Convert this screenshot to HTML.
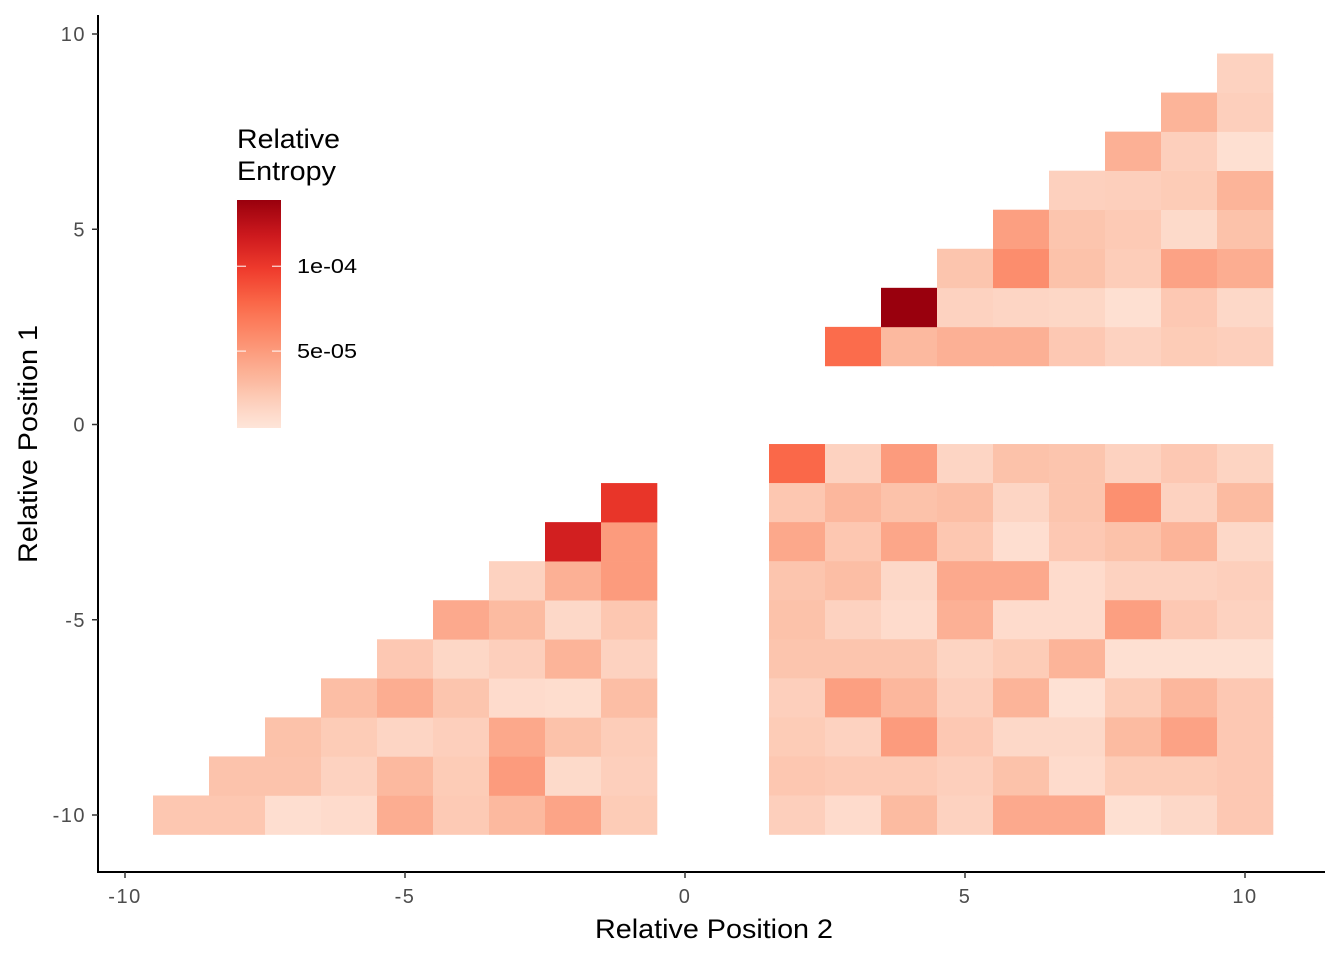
<!DOCTYPE html>
<html><head><meta charset="utf-8">
<style>
html,body{margin:0;padding:0;background:#fff;}
svg{display:block;font-family:"Liberation Sans",Arial,sans-serif;}
</style></head>
<body>
<svg id="chart" width="1344" height="960" viewBox="0 0 1344 960" xmlns="http://www.w3.org/2000/svg">
<g id="cells"></g>
<g id="axes"></g>
<g id="legend"></g>
</svg>
<script>
// Data: values in units of 1e-5
const rowY = [-10,-9,-8,-7,-6,-5,-4,-3,-2,
  -1,-2,-3,-4,-5,-6,-7,-8,-9,-10,
  2,3,4,5,6,7,8,9];
const rowStartX = [-9,-8,-7,-6,-5,-4,-3,-2,-1,
  2,2,2,2,2,2,2,2,2,2,
  3,4,5,6,7,8,9,10];
const rowValues = [
  [2.5,2.5,1.0,1.2,4.0,2.3,3.3,4.5,2.2],
  [2.7,2.7,1.8,3.3,2.2,5.0,1.3,2.0],
  [2.8,2.2,1.6,2.0,4.3,2.8,2.1],
  [3.0,4.0,2.6,1.2,1.1,3.0],
  [2.4,1.5,2.0,3.6,1.8],
  [4.2,3.2,1.4,2.5],
  [1.8,3.8,5.0],
  [11.5,5.0],
  [10.2],
  [7.8,1.8,5.0,1.6,2.8,2.6,1.8,2.4,1.7],
  [2.5,3.4,2.8,3.0,1.6,2.6,5.6,1.8,3.2],
  [4.3,2.5,4.4,2.5,1.0,2.4,2.8,3.6,1.4],
  [2.6,3.0,1.4,4.2,4.2,1.2,1.8,1.8,2.0],
  [2.8,1.8,1.2,3.8,1.2,1.2,4.8,2.4,1.8],
  [2.6,2.6,2.6,1.7,2.2,3.6,0.9,0.9,0.9],
  [2.0,4.8,3.4,2.0,3.6,0.8,2.2,3.4,2.4],
  [2.2,1.8,5.0,2.4,1.4,1.4,3.2,4.6,2.4],
  [2.5,2.3,2.3,2.0,2.8,1.2,2.2,2.2,2.4],
  [2.0,1.2,3.2,1.8,4.2,4.2,0.9,1.4,2.4],
  [7.6,3.3,3.8,3.8,2.4,1.8,2.2,2.0],
  [13.9,1.8,1.6,1.5,0.9,2.4,1.4],
  [2.6,5.8,2.8,2.1,4.6,4.0],
  [4.8,2.6,2.3,1.3,2.8],
  [1.9,2.0,2.2,3.6],
  [3.8,2.0,0.9],
  [3.6,2.0],
  [1.8]
];
const xTicks = [-10,-5,0,5,10];
const yTicks = [-10,-5,0,5,10];
const xTickLabels = ["-10","-5","0","5","10"];
const yTickLabels = ["-10","-5","0","5","10"];
const legendTicks = [10,5];
const legendTickLabels = ["1e-04","5e-05"];
const vMin = 0.47, vMax = 13.9;

const NS="http://www.w3.org/2000/svg";
const xScale = v => 685 + v*56;
const yScale = v => 424.5 - v*39.05;
const stops = ["#FEE5D9","#FCBBA1","#FC9272","#FB6A4A","#EF3B2C","#CB181D","#99000D"];
function hex(c){return [1,3,5].map(i=>parseInt(c.substr(i,2),16));}
function color(v){
  let t0=Math.max(0,Math.min(1,(v-vMin)/(vMax-vMin)));
  let t=Math.pow(t0,1.12)*(stops.length-1);
  let i=Math.min(stops.length-2,Math.floor(t)), f=t-i;
  let a=hex(stops[i]), b=hex(stops[i+1]);
  return "rgb("+a.map((x,k)=>Math.round(x+(b[k]-x)*f)).join(",")+")";
}
function mk(tag,attrs,parent){const e=document.createElementNS(NS,tag);for(const k in attrs)e.setAttribute(k,attrs[k]);parent.appendChild(e);return e;}

const cells=document.getElementById("cells");
rowValues.forEach((vals,r)=>{
  vals.forEach((v,j)=>{
    const x=rowStartX[r]+j, y=rowY[r];
    const rect=mk("rect",{x:xScale(x-0.5),y:yScale(y+0.5),width:xScale(x+0.5)-xScale(x-0.5)+0.3,height:yScale(y-0.5)-yScale(y+0.5)+0.3,fill:color(v)},cells);
    
    
  });
});

const axes=document.getElementById("axes");
let yl=mk("line",{x1:98,y1:15,x2:98,y2:872,stroke:"#000","stroke-width":2},axes);


let xl=mk("line",{x1:97,y1:872,x2:1325,y2:872,stroke:"#000","stroke-width":2},axes);


xTicks.forEach((t,i)=>{
  let tk=mk("line",{x1:xScale(t),y1:872,x2:xScale(t),y2:878,stroke:"#333","stroke-width":1.5},axes);
  
  
  let tx=mk("text",{x:xScale(t),y:903,"text-anchor":"middle","font-size":20,fill:"#4d4d4d","letter-spacing":"1.5"},axes);
  tx.textContent=xTickLabels[i];
  
  
});
yTicks.forEach((t,i)=>{
  let tk=mk("line",{x1:92,y1:yScale(t),x2:98,y2:yScale(t),stroke:"#333","stroke-width":1.5},axes);
  
  
  let tx=mk("text",{x:86,y:yScale(t)+7,"text-anchor":"end","font-size":20,fill:"#4d4d4d","letter-spacing":"1.5"},axes);
  tx.textContent=yTickLabels[i];
  
  
});
let xt=mk("text",{x:595,y:938,"font-size":27,fill:"#000",textLength:238,lengthAdjust:"spacingAndGlyphs"},axes);
xt.textContent="Relative Position 2";


let yt=mk("text",{x:-563,y:0,"font-size":27,fill:"#000",transform:"translate(37,0) rotate(-90)",textLength:238,lengthAdjust:"spacingAndGlyphs"},axes);
yt.textContent="Relative Position 1";



const leg=document.getElementById("legend");
let t1=mk("text",{x:237,y:148,"font-size":27,fill:"#000",textLength:103,lengthAdjust:"spacingAndGlyphs"},leg);
t1.textContent="Relative";


let t2=mk("text",{x:237,y:180,"font-size":27,fill:"#000",textLength:99,lengthAdjust:"spacingAndGlyphs"},leg);
t2.textContent="Entropy";


const defs=mk("defs",{},leg);
const grad=mk("linearGradient",{id:"lg",x1:0,y1:1,x2:0,y2:0},defs);
for(let k=0;k<=20;k++){const tt=k/20;mk("stop",{offset:tt,"stop-color":color(vMin+tt*(vMax-vMin))},grad);}
let bar=mk("rect",{x:237,y:200,width:44,height:228,fill:"url(#lg)"},leg);


const lScale = v => 428 - (v - vMin)/(vMax - vMin)*228;
legendTicks.forEach((v,i)=>{
  const y=lScale(v);
  let a=mk("line",{x1:237,y1:y,x2:246,y2:y,stroke:"#fff","stroke-width":1},leg);
  
  
  let b=mk("line",{x1:272,y1:y,x2:281,y2:y,stroke:"#fff","stroke-width":1},leg);
  
  
  let tx=mk("text",{x:297,y:y+7,"font-size":20,fill:"#000",textLength:60,lengthAdjust:"spacingAndGlyphs"},leg);
  tx.textContent=legendTickLabels[i];
  
  
});
</script>
</body></html>
